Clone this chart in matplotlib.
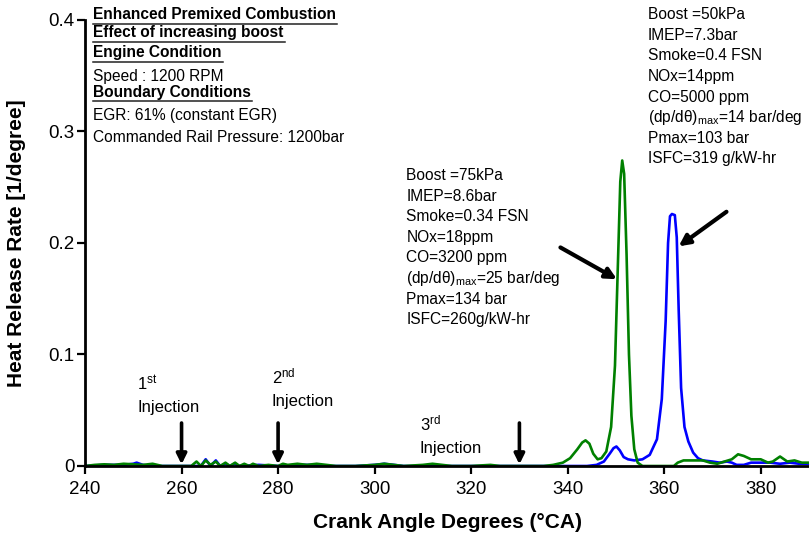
import matplotlib.pyplot as plt

plt.rcParams['font.family'] = ['Liberation Sans', 'DejaVu Sans']
plt.rcParams['mathtext.fontset'] = 'custom'
plt.rcParams['mathtext.rm'] = 'Liberation Sans'
plt.rcParams['mathtext.it'] = 'Liberation Sans:italic'
plt.rcParams['mathtext.bf'] = 'Liberation Sans:bold'

# heat release rate, boost 75 kPa
cad_75 = [240, 242, 244, 246, 248, 250, 252, 254, 256, 258, 260, 262, 263.1, 264, 265, 266,
          267.1, 268, 269.1, 270, 271.1, 272, 273, 274, 274.8, 276, 278, 280, 281, 282, 284,
          286, 288, 290, 292, 296, 300, 302, 304, 306, 310, 312, 314, 316, 320, 324, 326,
          330, 335, 337, 339, 340.5, 342, 343, 343.7, 344.5, 345.3, 346.2, 347, 348, 349,
          349.8, 350.4, 350.9, 351.3, 351.7, 352.2, 352.7, 353.2, 353.8, 354.5, 355.5, 362,
          362.8, 364, 366, 368, 369.5, 371, 372.5, 374, 375.3, 376.5, 378, 380, 381.5, 382.5,
          384, 385.5, 387, 388.5, 390, 392]
hrr_75 = [0.000, 0.001, 0.0015, 0.001, 0.002, 0.0015, 0.001, 0.002, 0.000, 0.000, 0.000, 0.000,
          0.004, 0.000, 0.005, 0.001, 0.004, 0.000, 0.003, 0.000, 0.003, 0.000, 0.002, 0.000,
          0.002, 0.000, 0.001, 0.000, 0.002, 0.001, 0.002, 0.001, 0.002, 0.001, 0.000, 0.000,
          0.001, 0.002, 0.001, 0.000, 0.001, 0.002, 0.001, 0.000, 0.000, 0.001, 0.000, 0.000,
          0.000, 0.001, 0.003, 0.007, 0.015, 0.021, 0.023, 0.020, 0.011, 0.006, 0.007, 0.013,
          0.035, 0.090, 0.180, 0.255, 0.274, 0.262, 0.190, 0.100, 0.045, 0.015, 0.003, 0.000,
          0.000, 0.003, 0.005, 0.005, 0.005, 0.003, 0.002, 0.004, 0.006, 0.0105, 0.009, 0.006,
          0.006, 0.003, 0.004, 0.0085, 0.004, 0.005, 0.003, 0.003, 0.001]

# heat release rate, boost 50 kPa
cad_50 = [240, 244, 248, 250, 250.7, 252, 254, 258, 260, 262, 264, 265, 266, 267.1, 268, 269.1,
          270, 271, 272, 276, 280, 284, 288, 290, 296, 300, 302, 304, 306, 330, 344, 346,
          347.5, 348.7, 349.5, 350.1, 350.8, 351.6, 352.5, 353.8, 355.5, 357, 358.5, 359.5,
          360.3, 360.8, 361.2, 361.6, 362.2, 362.6, 363.0, 363.5, 364.2, 365, 366, 367, 368,
          370, 371.5, 373, 374, 375, 376.5, 378, 380, 382, 384, 386, 388, 390, 392]
hrr_50 = [0.000, 0.001, 0.001, 0.002, 0.003, 0.001, 0.000, 0.000, 0.000, 0.000, 0.000, 0.006,
          0.000, 0.005, 0.000, 0.002, 0.000, 0.002, 0.000, 0.001, 0.000, 0.001, 0.001, 0.000,
          0.000, 0.001, 0.002, 0.001, 0.000, 0.000, 0.000, 0.001, 0.004, 0.011, 0.016, 0.0175,
          0.014, 0.008, 0.006, 0.005, 0.006, 0.010, 0.024, 0.060, 0.130, 0.200, 0.224, 0.226,
          0.225, 0.205, 0.140, 0.070, 0.035, 0.022, 0.012, 0.007, 0.005, 0.004, 0.003, 0.004,
          0.003, 0.001, 0.001, 0.003, 0.003, 0.003, 0.002, 0.003, 0.002, 0.002, 0.001]

injection_cad = [260, 280, 330]
injection_labels = ['1$^{\\mathrm{st}}$\nInjection', '2$^{\\mathrm{nd}}$\nInjection',
                    '3$^{\\mathrm{rd}}$\nInjection']

header_lines = [('Enhanced Premixed Combustion', True), ('Effect of increasing boost', True),
                ('Engine Condition', True), ('Speed : 1200 RPM', False),
                ('Boundary Conditions', True), ('EGR: 61% (constant EGR)', False),
                ('Commanded Rail Pressure: 1200bar', False)]

stats_50 = ['Boost =50kPa', 'IMEP=7.3bar', 'Smoke=0.4 FSN', 'NOx=14ppm', 'CO=5000 ppm',
            '(dp/dθ)$_{\\mathrm{max}}$=14 bar/deg', 'Pmax=103 bar', 'ISFC=319 g/kW-hr']
stats_75 = ['Boost =75kPa', 'IMEP=8.6bar', 'Smoke=0.34 FSN', 'NOx=18ppm', 'CO=3200 ppm',
            '(dp/dθ)$_{\\mathrm{max}}$=25 bar/deg', 'Pmax=134 bar', 'ISFC=260g/kW-hr']

fig = plt.figure(figsize=(8.09, 5.36), dpi=100)
ax = fig.add_axes([0.1051, 0.1306, 0.8949, 0.8321])

ax.plot(cad_50, hrr_50, color='#0000ff', lw=1.9)
ax.plot(cad_75, hrr_75, color='#008000', lw=1.9)

ax.set_xlim(240, 390)
ax.set_ylim(0, 0.4)
ax.set_xticks(range(240, 381, 20))
ax.set_yticks([0, 0.1, 0.2, 0.3, 0.4])
ax.set_yticklabels(['0', '0.1', '0.2', '0.3', '0.4'])
ax.tick_params(direction='out', length=6, width=1.6, labelsize=13.5)
ax.tick_params(axis='y', pad=1.5)
ax.tick_params(axis='x', pad=5)
for side in ['top', 'right']:
    ax.spines[side].set_visible(False)
for side in ['left', 'bottom']:
    ax.spines[side].set_linewidth(2.0)

ax.set_xlabel('Crank Angle Degrees (°CA)', fontsize=15, fontweight='bold')
ax.set_ylabel('Heat Release Rate [1/degree]', fontsize=15, fontweight='bold')
ax.xaxis.set_label_coords(0.500, -0.105)
ax.yaxis.set_label_coords(-0.082, 0.5)

# px -> data helper for the vertical text layout (1115 px per unit)
def ypx(px):
    return (466 - px) / 1115.0

# header block with underlined titles
y_base = [19.3, 37.3, 57.3, 81, 96.7, 120, 142]
for (txt, bold), yb in zip(header_lines, y_base):
    t = ax.text(241.7, ypx(yb), txt, fontsize=11.2, va='baseline', ha='left',
                fontweight='bold' if bold else 'normal')
    if bold:
        fig.canvas.draw()
        bb = t.get_window_extent()
        inv = ax.transData.inverted()
        x0 = inv.transform((bb.x0, 0))[0]
        x1 = inv.transform((bb.x1 + 1, 0))[0]
        ax.plot([x0, x1], [ypx(yb + 4.5)] * 2, color='#222222', lw=1.1, clip_on=False)

for i, line in enumerate(stats_50):
    ax.text(356.6, ypx(19.3 + 20.6 * i), line, fontsize=11.2, va='baseline', ha='left')
for i, line in enumerate(stats_75):
    ax.text(306.6, ypx(180 + 20.6 * i), line, fontsize=11.2, va='baseline', ha='left')

# pointers to the two combustion peaks
arrow = dict(arrowstyle='-|>', lw=3, color='black', mutation_scale=16, shrinkA=0, shrinkB=0)
ax.annotate('', xy=(350.2, 0.1675), xytext=(338.5, 0.196), arrowprops=arrow)
ax.annotate('', xy=(363.0, 0.197), xytext=(372.9, 0.228), arrowprops=arrow)

# injection timings
label_pos = [(250.8, ypx(412)), (278.7, ypx(406)), (309.4, ypx(453))]
inj_arrow = dict(arrowstyle='-|>', lw=2.6, color='black', mutation_scale=15, shrinkA=0, shrinkB=0)
for cad, lab, (lx, ly) in zip(injection_cad, injection_labels, label_pos):
    ax.annotate('', xy=(cad, 0.0015), xytext=(cad, ypx(423)), arrowprops=inj_arrow)
    ax.text(lx, ly, lab, fontsize=12, va='baseline', ha='left', linespacing=1.6,
            family=['Liberation Sans Narrow', 'Liberation Sans'])

fig.savefig('out.png', dpi=100)
